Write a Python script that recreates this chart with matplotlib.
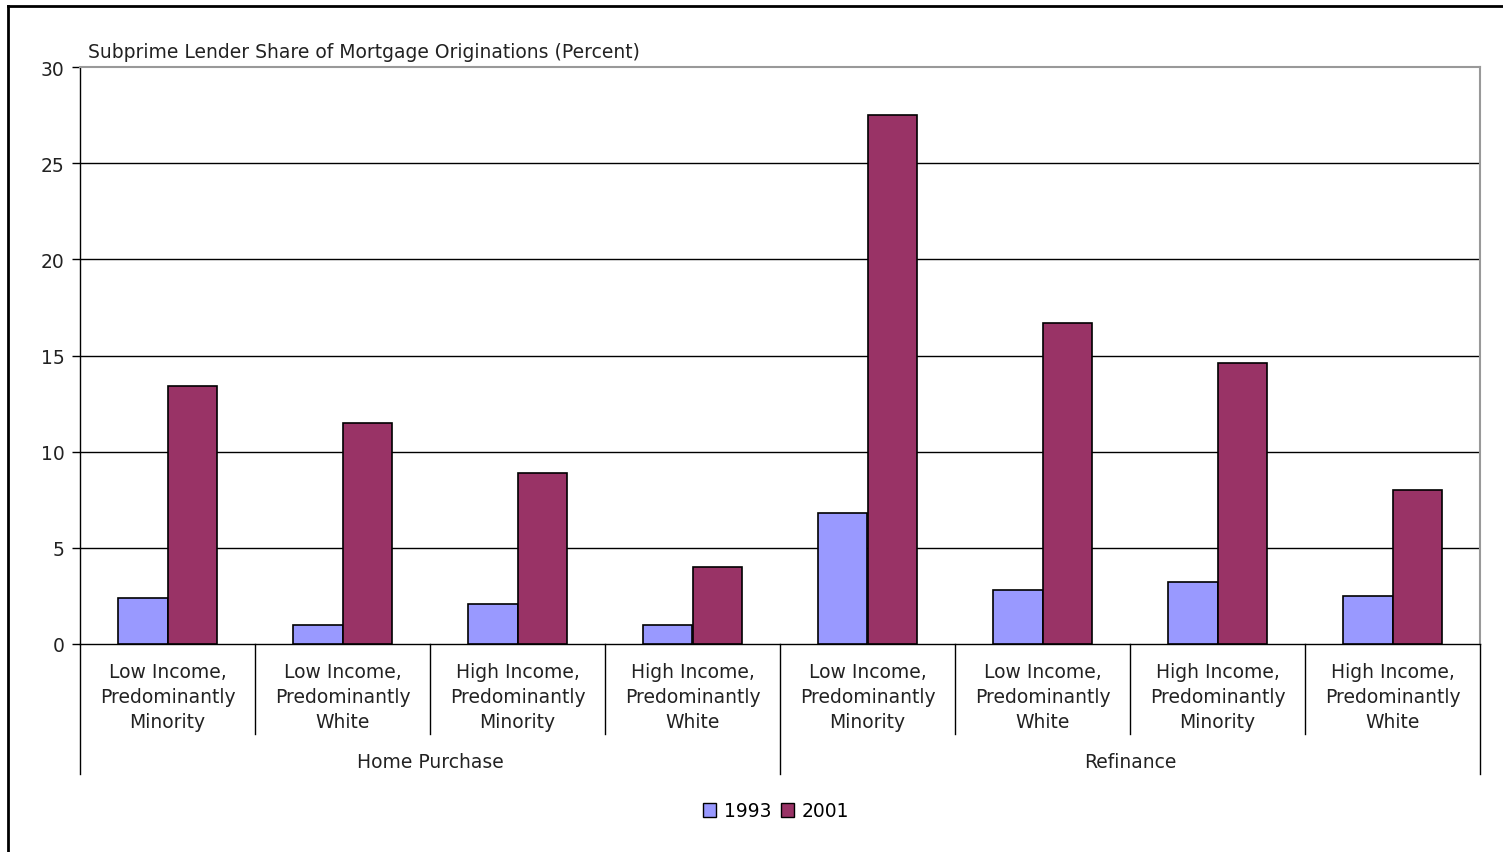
import numpy as np
import matplotlib
matplotlib.use("Agg")
import matplotlib.pyplot as plt
from matplotlib.lines import Line2D
from matplotlib.patches import Rectangle

plt.rcParams['font.family'] = ['DejaVu Sans']

categories = ["Low Income,\nPredominantly\nMinority", "Low Income,\nPredominantly\nWhite",
              "High Income,\nPredominantly\nMinority", "High Income,\nPredominantly\nWhite"] * 2
groups = ["Home Purchase", "Refinance"]
years = ["1993", "2001"]
share_1993 = [2.4, 1.0, 2.1, 1.0, 6.8, 2.8, 3.2, 2.5]
share_2001 = [13.4, 11.5, 8.9, 4.0, 27.5, 16.7, 14.6, 8.0]
colors = ["#9999FF", "#993366"]
FS = 13.5

W, H = 1503, 853
fig = plt.figure(figsize=(W / 100, H / 100), dpi=100)
ax_l, ax_r, ax_t, ax_b = 80, 1480, 68, 645
ax = fig.add_axes([ax_l / W, (H - ax_b) / H, (ax_r - ax_l) / W, (ax_b - ax_t) / H])

x = np.arange(len(categories))
bw = 0.2857
ax.bar(x - bw / 2, share_1993, bw, color=colors[0], edgecolor="black", linewidth=1.2, zorder=3, label=years[0])
ax.bar(x + bw / 2, share_2001, bw, color=colors[1], edgecolor="black", linewidth=1.2, zorder=3, label=years[1])

ax.set_xlim(-0.5, len(categories) - 0.5)
ax.set_ylim(0, 30)
ax.set_yticks(range(0, 31, 5))
ax.tick_params(axis="y", direction="out", length=6, width=1, labelsize=FS, pad=5,
               colors="black", labelcolor="#222222")
ax.set_xticks([])
for y in range(5, 30, 5):
    ax.axhline(y, color="black", lw=1, zorder=1)

for s in ["top", "right"]:
    ax.spines[s].set_color("#999999")
    ax.spines[s].set_linewidth(1.5)
ax.spines["left"].set_color("black")
ax.spines["bottom"].set_color("black")
ax.spines["left"].set_linewidth(1)
ax.spines["bottom"].set_linewidth(1)

tr = ax.get_xaxis_transform()
span = ax_b - ax_t
def yfrac(p):
    return (ax_b - p) / span

# category separators
for i in range(1, len(categories)):
    if i == 4:
        continue
    ax.add_line(Line2D([i - 0.5, i - 0.5], [0, yfrac(735)], transform=tr, color="black", lw=1, clip_on=False))
for gx in [-0.5, 3.5, 7.5]:
    ax.add_line(Line2D([gx, gx], [0, yfrac(775)], transform=tr, color="black", lw=1, clip_on=False))

for i, lab in enumerate(categories):
    ax.text(i, yfrac(698), lab, transform=tr, ha="center", va="center", fontsize=FS, linespacing=1.4,
            color="#222222")
for j, g in enumerate(groups):
    ax.text(1.5 + 4 * j, yfrac(763), g, transform=tr, ha="center", va="center", fontsize=FS, color="#222222")

fig.text(88 / W, 1 - 52 / H, "Subprime Lender Share of Mortgage Originations (Percent)",
         ha="left", va="center", fontsize=FS, color="#222222")

handles = [Rectangle((0, 0), 1, 1, facecolor=c, edgecolor="black", lw=1) for c in colors]
fig.legend(handles, years, loc="center", bbox_to_anchor=(776 / W, 1 - 812 / H), ncol=2, frameon=False,
           fontsize=FS, handlelength=0.7, handleheight=0.7, handletextpad=0.4, columnspacing=0.5)

# outer border (top and left)
fig.add_artist(Line2D([8 / W, 1], [1 - 7 / H, 1 - 7 / H], transform=fig.transFigure, color="black", lw=2))
fig.add_artist(Line2D([8 / W, 8 / W], [0, 1 - 7 / H], transform=fig.transFigure, color="black", lw=2))

fig.savefig("out.png", dpi=100)
